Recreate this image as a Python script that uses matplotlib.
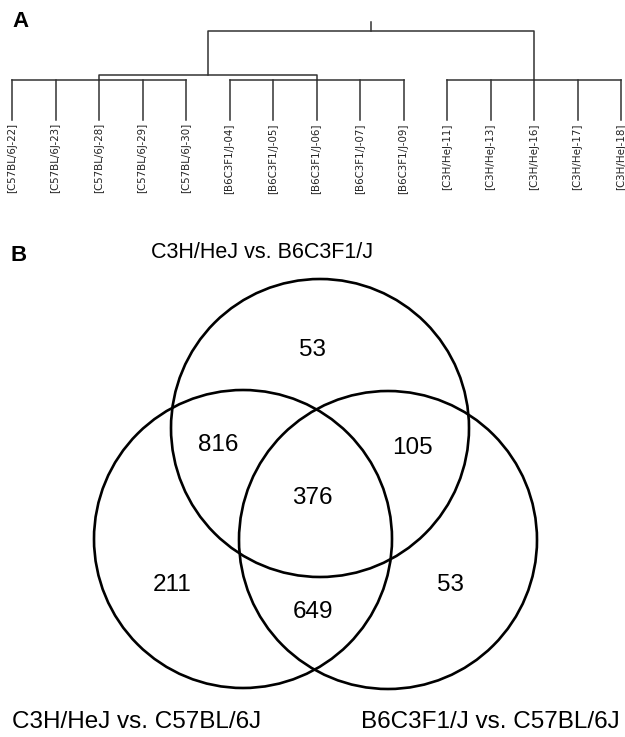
import numpy as np
import matplotlib
matplotlib.use('Agg')
import matplotlib.pyplot as plt
from matplotlib.patches import Circle

# 样本名（树状图叶子）
leaves = ['[C57BL/6J-22]', '[C57BL/6J-23]', '[C57BL/6J-28]', '[C57BL/6J-29]', '[C57BL/6J-30]',
          '[B6C3F1/J-04]', '[B6C3F1/J-05]', '[B6C3F1/J-06]', '[B6C3F1/J-07]', '[B6C3F1/J-09]',
          '[C3H/HeJ-11]', '[C3H/HeJ-13]', '[C3H/HeJ-16]', '[C3H/HeJ-17]', '[C3H/HeJ-18]']
groups = [0, 0, 0, 0, 0, 1, 1, 1, 1, 1, 2, 2, 2, 2, 2]
# 每组连接点所在的叶子
group_anchor = [2, 7, 12]

# 维恩图
set_labels = ['C3H/HeJ vs. B6C3F1/J', 'C3H/HeJ vs. C57BL/6J', 'B6C3F1/J vs. C57BL/6J']
region_names = ['top', 'top_left', 'top_right', 'all', 'left', 'left_right', 'right']
region_counts = [53, 816, 105, 376, 211, 649, 53]

fig = plt.figure(figsize=(6.25, 7.37), dpi=100)
ax = fig.add_axes([0, 0, 1, 1])
ax.set_xlim(0, 625)
ax.set_ylim(737, 0)
ax.axis('off')

lc = '#333333'
lw = 1.1

# ---- A: 树状图 ----
x0, step = 12, (621 - 12) / 14
xs = x0 + step * np.arange(len(leaves))
y_leaf_top, y_leaf_bot = 80, 120
y_merge1, y_root, y_tip = 75, 31, 22

for x, name in zip(xs, leaves):
    ax.plot([x, x], [y_leaf_top, y_leaf_bot], color=lc, lw=lw)
    ax.text(x, y_leaf_bot + 3, name, rotation=90, ha='center', va='top',
            fontsize=7.4, color='#222222')

for g in range(3):
    gx = xs[np.array(groups) == g]
    ax.plot([gx.min(), gx.max()], [y_leaf_top, y_leaf_top], color=lc, lw=lw)

a0, a1, a2 = xs[group_anchor[0]], xs[group_anchor[1]], xs[group_anchor[2]]
ax.plot([a0, a0, a1, a1], [y_leaf_top, y_merge1, y_merge1, y_leaf_top], color=lc, lw=lw)
m01 = (a0 + a1) / 2
ax.plot([m01, m01, a2, a2], [y_merge1, y_root, y_root, y_leaf_top], color=lc, lw=lw)
mr = (m01 + a2) / 2
ax.plot([mr, mr], [y_root, y_tip], color=lc, lw=lw)

ax.text(12, 21, 'A', fontsize=16, fontweight='bold', ha='left', va='center',
        family='Liberation Sans')
ax.text(11, 255, 'B', fontsize=16, fontweight='bold', ha='left', va='center',
        family='Liberation Sans')

# ---- B: 维恩图 ----
r = 149
centers = [(320, 428), (243, 539), (388, 540)]
for c in centers:
    ax.add_patch(Circle(c, r, fill=False, ec='black', lw=1.9))

label_pos = [(262, 252, 'center', 15.5), (12, 722, 'left', 17.5), (620, 722, 'right', 17.5)]
for (lx, ly, ha, fs), s in zip(label_pos, set_labels):
    ax.text(lx, ly, s, fontsize=fs, ha=ha, va='center', family='Liberation Sans')

count_pos = [(312, 350), (218, 445), (412, 448), (312, 498), (172, 585), (313, 612), (450, 585)]
for (cx, cy), n in zip(count_pos, region_counts):
    ax.text(cx, cy, str(n), fontsize=17.5, ha='center', va='center', family='Liberation Sans')

fig.savefig('out.png', dpi=100)
